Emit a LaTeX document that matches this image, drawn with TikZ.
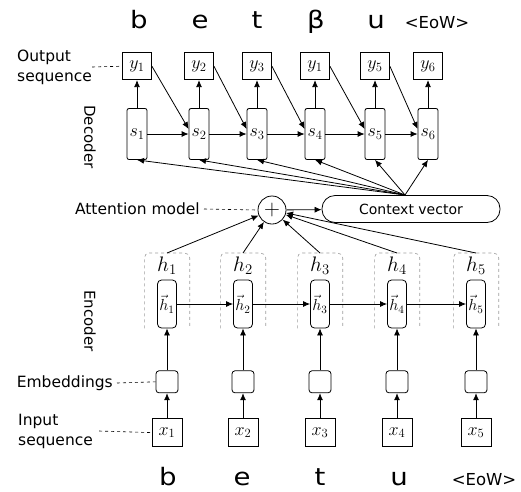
\RequirePackage{fix-cm}
\documentclass[tikz,border=0pt]{standalone}
\usepackage{fontspec}
\setsansfont{DejaVu Sans}
\usepackage{amsmath}
\usepackage{tikz}
\usetikzlibrary{positioning, arrows.meta}

\begin{document}
\begin{tikzpicture}[x=1pt, y=-1pt,
                >={Latex[length=7pt,width=6pt]},
                flow/.style={->, line width=0.8pt},
                pointer/.style={dashed, line width=0.6pt},
                % decoder side
                cell/.style={draw, rounded corners=2pt, minimum width=20pt, minimum height=51pt,
                  inner sep=0pt, line width=0.8pt, font=\fontsize{18}{20}\selectfont},
                outbox/.style={draw, minimum width=29pt, minimum height=27pt, inner sep=0pt,
                  line width=0.8pt, font=\fontsize{18}{20}\selectfont},
                % encoder side
                enccell/.style={draw, rounded corners=4pt, minimum width=19pt, minimum height=48pt,
                  inner sep=0pt, line width=0.8pt, font=\fontsize{16}{18}\selectfont},
                hlabel/.style={inner sep=0pt, font=\fontsize{21}{22}\selectfont},
                groupbox/.style={minimum width=45pt, minimum height=75pt, anchor=south, inner sep=0pt},
                grouplines/.style={draw=gray!75, dashed, rounded corners=5pt, line width=0.6pt},
                embbox/.style={draw, rounded corners=3pt, minimum size=22pt, inner sep=0pt, line width=0.8pt},
                inbox/.style={draw, minimum width=30pt, minimum height=28pt, inner sep=0pt,
                  line width=0.8pt, font=\fontsize{18}{20}\selectfont},
                % texts
                tag/.style={font=\sffamily\fontsize{15.5}{20}\selectfont, align=left, inner sep=0pt},
                sidetag/.style={font=\sffamily\fontsize{15}{16}\selectfont, rotate=-90, inner sep=0pt},
                letter/.style={font=\sffamily\fontsize{24}{24}\selectfont, xscale=1.15, anchor=base, inner sep=0pt},
                eow/.style={font=\sffamily\fontsize{16.5}{17}\selectfont, anchor=base, inner sep=0pt}
                ]
  \useasboundingbox[fill=white] (0,0) rectangle (521,491);

  % decoder states and outputs
  \node[cell] (s1) at (137,134) {$s_1$};
  \node[cell] (s2) at (199,134) {$s_2$};
  \node[cell] (s3) at (257,134) {$s_3$};
  \node[cell] (s4) at (315,134) {$s_4$};
  \node[cell] (s5) at (375,134) {$s_5$};
  \node[cell] (s6) at (428,134) {$s_6$};
  \node[outbox, above=28pt of s1] (y1) {$y_1$};
  \node[outbox, above=28pt of s2] (y2) {$y_2$};
  \node[outbox, above=28pt of s3] (y3) {$y_3$};
  \node[outbox, above=28pt of s4] (y4) {$y_1$};
  \node[outbox, above=28pt of s5] (y5) {$y_5$};
  \node[outbox, above=28pt of s6] (y6) {$y_6$};

  \node[letter] (o1) at (139,28) {b};
  \node[letter] (o2) at (200,28) {e};
  \node[letter] (o3) at (257,28) {t};
  \node[letter] (o4) at (316,28) {β};
  \node[letter] (o5) at (376,28) {u};
  \node[eow] (o6) at (437,28) {<EoW>};

  \draw[flow] (s1) -- (y1);
  \draw[flow] (s2) -- (y2);
  \draw[flow] (s3) -- (y3);
  \draw[flow] (s4) -- (y4);
  \draw[flow] (s5) -- (y5);
  \draw[flow] (s6) -- (y6);
  \draw[flow] (s1) -- (s2);
  \draw[flow] (s2) -- (s3);
  \draw[flow] (s3) -- (s4);
  \draw[flow] (s4) -- (s5);
  \draw[flow] (s5) -- (s6);
  \draw[flow] (y1.east) -- ([yshift=5pt]s2.west);
  \draw[flow] (y2.east) -- ([yshift=5pt]s3.west);
  \draw[flow] (y3.east) -- ([yshift=5pt]s4.west);
  \draw[flow] (y4.east) -- ([yshift=5pt]s5.west);
  \draw[flow] (y5.east) -- ([yshift=5pt]s6.west);

  \node[tag, anchor=west] (outlbl) at (17,67) {Output\\sequence};
  \draw[pointer] (outlbl.east) -- (y1.west);
  \node[sidetag] (declbl) at (90,137) {Decoder};

  % attention and context
  \node[draw, circle, minimum size=28pt, inner sep=0pt, line width=0.8pt,
        font=\fontsize{22}{22}\selectfont] (plus) at (272,210) {$+$};
  \node[draw, rounded corners=13pt, minimum width=178pt, minimum height=27pt, line width=0.8pt,
        font=\sffamily\fontsize{14}{15}\selectfont] (ctx) at (411,209) {Context vector};
  \coordinate (hub) at (405,195);
  \draw[flow] (plus) -- (ctx);
  \node[tag, anchor=east] (attlbl) at (200,209) {Attention model};
  \draw[pointer] ([xshift=4pt]attlbl.east) -- (plus.west);

  \draw[flow] (hub) -- (s1.south);
  \draw[flow] (hub) -- (s2.south);
  \draw[flow] (hub) -- (s3.south);
  \draw[flow] (hub) -- (s4.south);
  \draw[flow] (hub) -- (s5.south);
  \draw[flow] (hub) -- (s6.south);

  % encoder states
  \node[enccell] (h1) at (167,304) {$\vec{h}_1$};
  \node[enccell] (h2) at (243,304) {$\vec{h}_2$};
  \node[enccell] (h3) at (320,304) {$\vec{h}_3$};
  \node[enccell] (h4) at (397,304) {$\vec{h}_4$};
  \node[enccell] (h5) at (476,304) {$\vec{h}_5$};
  \node[hlabel, above=5pt of h1] {$h_1$};
  \node[hlabel, above=5pt of h2] {$h_2$};
  \node[hlabel, above=5pt of h3] {$h_3$};
  \node[hlabel, above=5pt of h4] {$h_4$};
  \node[hlabel, above=5pt of h5] {$h_5$};
  \node[groupbox] (g1) at (h1.south) {};
  \node[groupbox] (g2) at (h2.south) {};
  \node[groupbox] (g3) at (h3.south) {};
  \node[groupbox] (g4) at (h4.south) {};
  \node[groupbox] (g5) at (h5.south) {};
  \draw[grouplines] (g1.south west) |- (g1.north) -| (g1.south east);
  \draw[grouplines] (g2.south west) |- (g2.north) -| (g2.south east);
  \draw[grouplines] (g3.south west) |- (g3.north) -| (g3.south east);
  \draw[grouplines] (g4.south west) |- (g4.north) -| (g4.south east);
  \draw[grouplines] (g5.south west) |- (g5.north) -| (g5.south east);

  \draw[flow] (h1) -- (h2);
  \draw[flow] (h2) -- (h3);
  \draw[flow] (h3) -- (h4);
  \draw[flow] (h4) -- (h5);

  \draw[flow] (g1.north) -- (plus);
  \draw[flow] (g2.north) -- (plus);
  \draw[flow] (g3.north) -- (plus);
  \draw[flow] (g4.north) -- (plus);
  \draw[flow] (g5.north) -- (plus);

  \node[sidetag] (enclbl) at (90,321) {Encoder};

  % embeddings and inputs
  \node[embbox, below=42pt of h1] (e1) {};
  \node[embbox, below=42pt of h2] (e2) {};
  \node[embbox, below=42pt of h3] (e3) {};
  \node[embbox, below=42pt of h4] (e4) {};
  \node[embbox, below=42pt of h5] (e5) {};
  \node[inbox, below=25pt of e1] (x1) {$x_1$};
  \node[inbox, below=25pt of e2] (x2) {$x_2$};
  \node[inbox, below=25pt of e3] (x3) {$x_3$};
  \node[inbox, below=25pt of e4] (x4) {$x_4$};
  \node[inbox, below=25pt of e5] (x5) {$x_5$};

  \draw[flow] (e1) -- (h1);
  \draw[flow] (e2) -- (h2);
  \draw[flow] (e3) -- (h3);
  \draw[flow] (e4) -- (h4);
  \draw[flow] (e5) -- (h5);
  \draw[flow] (x1) -- (e1);
  \draw[flow] (x2) -- (e2);
  \draw[flow] (x3) -- (e3);
  \draw[flow] (x4) -- (e4);
  \draw[flow] (x5) -- (e5);

  \node[tag, anchor=east] (emblbl) at (113,383) {Embeddings};
  \draw[pointer] ([xshift=4pt]emblbl.east) -- (e1.west);
  \node[tag, anchor=west] (inlbl) at (18,431) {Input\\sequence};
  \draw[pointer] ([xshift=6pt]inlbl.east) -- (x1.west);

  \node[letter] (i1) at (168,485) {b};
  \node[letter] (i2) at (242,485) {e};
  \node[letter] (i3) at (320,485) {t};
  \node[letter] (i4) at (399,485) {u};
  \node[eow] (i5) at (484,485) {<EoW>};
\end{tikzpicture}
\end{document}
